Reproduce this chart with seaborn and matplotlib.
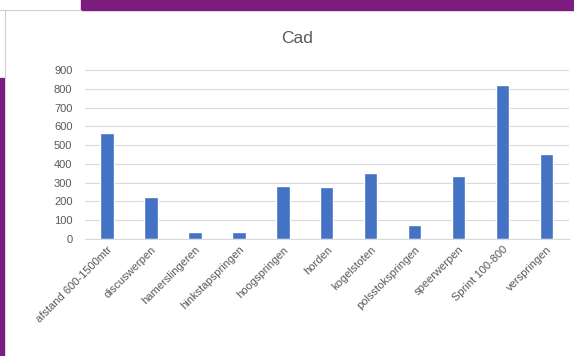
import matplotlib
matplotlib.use("Agg")
import matplotlib.pyplot as plt
import seaborn as sns
import pandas as pd
from matplotlib.patches import Rectangle
from matplotlib.lines import Line2D

categories = ["afstand 600-1500mtr", "discuswerpen", "hamerslingeren", "hinkstapspringen",
              "hoogspringen", "horden", "kogelstoten", "polsstokspringen", "speerwerpen",
              "Sprint 100-800", "verspringen"]
values = [563, 222, 35, 35, 280, 275, 350, 75, 338, 820, 451]
yticks = [0, 100, 200, 300, 400, 500, 600, 700, 800, 900]
title = "Cad"

sns.set_style("white")
plt.rcParams['font.family'] = ['Liberation Sans', 'DejaVu Sans']

df = pd.DataFrame({"cat": categories, "val": values})
fig = plt.figure(figsize=(5.74, 3.56), dpi=100)
ax = fig.add_axes([0.148, 0.329, 0.843, 0.474])
sns.barplot(data=df, x="cat", y="val", color="#4472C4", width=0.3, saturation=1, ax=ax)
ax.set_ylim(0, 900)
ax.set_yticks(yticks)
ax.grid(axis="y", color="#d9d9d9", linewidth=0.8)
ax.set_axisbelow(True)
for s in ["top", "right", "left"]:
    ax.spines[s].set_visible(False)
ax.spines["bottom"].set_color("#d9d9d9")
ax.set_xlabel("")
ax.set_ylabel("")
ax.tick_params(axis="both", length=0, colors="#595959", labelsize=8)
ax.tick_params(axis="y", pad=9)
ax.tick_params(axis="x", pad=4)
plt.setp(ax.get_xticklabels(), rotation=45, ha="right", rotation_mode="anchor")
fig.text(0.517, 0.893, title, ha="center", va="center", fontsize=12.5, color="#595959")

# purple frame pieces of the screenshot
fig.patches.append(Rectangle((0.141, 0.972), 0.859, 0.028, transform=fig.transFigure,
                             color="#7B1C7E", zorder=0))
fig.patches.append(Rectangle((0.0, 0.0), 0.007, 0.78, transform=fig.transFigure,
                             color="#7B1C7E", zorder=0))
fig.lines.append(Line2D([0.0, 0.141], [0.972, 0.972], transform=fig.transFigure,
                        color="#cfcfcf", linewidth=0.8))
fig.lines.append(Line2D([0.008, 0.008], [0.78, 0.972], transform=fig.transFigure,
                        color="#cfcfcf", linewidth=0.8))
fig.savefig("out.png", dpi=100)
